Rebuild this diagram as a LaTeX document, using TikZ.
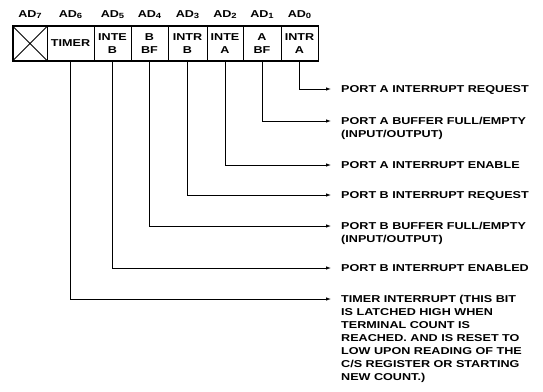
\documentclass[tikz,border=0pt]{standalone}
\usepackage{fontspec}
\setmainfont{Liberation Sans}[FakeStretch=1.26]
\usetikzlibrary{arrows.meta}
\newcommand{\adsub}[1]{AD\raisebox{-1.8pt}{\fontsize{7.5}{8}\selectfont #1}}
\begin{document}
\begin{tikzpicture}[x=1pt,y=-1pt,
  every node/.style={font=\bfseries\fontsize{10}{13}\selectfont},
  cell/.style={draw, line width=0.8pt, minimum height=34pt, inner sep=0pt, align=center},
  conn/.style={line width=0.8pt, -{Latex[length=5pt,width=3.5pt]}},
  lbl/.style={anchor=north west, inner sep=0pt, align=left},
  hdr/.style={anchor=base, inner sep=0pt}]
\useasboundingbox (0,0) rectangle (543,391);
% register cells
\node[cell, minimum width=34pt] (c7) at (30,43.5) {};
\node[cell, minimum width=47pt] (c6) at (70.5,43.5) {TIMER};
\node[cell, minimum width=37pt] (c5) at (112.5,43.5) {INTE\\B};
\node[cell, minimum width=37pt] (c4) at (149.5,43.5) {B\\BF};
\node[cell, minimum width=39pt] (c3) at (187.5,43.5) {INTR\\B};
\node[cell, minimum width=36pt] (c2) at (225,43.5) {INTE\\A};
\node[cell, minimum width=38pt] (c1) at (262,43.5) {A\\BF};
\node[cell, minimum width=37pt] (c0) at (299.5,43.5) {INTR\\A};
\draw[line width=1.4pt] (c7.north west) rectangle (c0.south east);
\draw[line width=0.8pt] (c7.north west) -- (c7.south east) (c7.north east) -- (c7.south west);
% headers
\node[hdr] (h7) at ([yshift=9pt]c7.north) {\adsub{7}};
\node[hdr] (h6) at ([yshift=9pt]c6.north) {\adsub{6}};
\node[hdr] (h5) at ([yshift=9pt]c5.north) {\adsub{5}};
\node[hdr] (h4) at ([yshift=9pt]c4.north) {\adsub{4}};
\node[hdr] (h3) at ([yshift=9pt]c3.north) {\adsub{3}};
\node[hdr] (h2) at ([yshift=9pt]c2.north) {\adsub{2}};
\node[hdr] (h1) at ([yshift=9pt]c1.north) {\adsub{1}};
\node[hdr] (h0) at ([yshift=9pt]c0.north) {\adsub{0}};
% arrow ends
\coordinate (e0) at (331,89);
\coordinate (e1) at (331,121);
\coordinate (e2) at (331,165);
\coordinate (e3) at (331,195);
\coordinate (e4) at (331,226);
\coordinate (e5) at (331,268);
\coordinate (e6) at (331,299);
% connectors
\draw[conn] (c0.south) |- (e0);
\draw[conn] (c1.south) |- (e1);
\draw[conn] (c2.south) |- (e2);
\draw[conn] (c3.south) |- (e3);
\draw[conn] (c4.south) |- (e4);
\draw[conn] (c5.south) |- (e5);
\draw[conn] (c6.south) |- (e6);
% labels
\node[lbl] (t0) at ([xshift=10pt,yshift=3.9pt]e0) {\rule{0pt}{7.5pt}PORT A INTERRUPT REQUEST};
\node[lbl] (t1) at ([xshift=10pt,yshift=3.9pt]e1) {\rule{0pt}{7.5pt}PORT A BUFFER FULL/EMPTY\\(INPUT/OUTPUT)};
\node[lbl] (t2) at ([xshift=10pt,yshift=3.9pt]e2) {\rule{0pt}{7.5pt}PORT A INTERRUPT ENABLE};
\node[lbl] (t3) at ([xshift=10pt,yshift=3.9pt]e3) {\rule{0pt}{7.5pt}PORT B INTERRUPT REQUEST};
\node[lbl] (t4) at ([xshift=10pt,yshift=3.9pt]e4) {\rule{0pt}{7.5pt}PORT B BUFFER FULL/EMPTY\\(INPUT/OUTPUT)};
\node[lbl] (t5) at ([xshift=10pt,yshift=3.9pt]e5) {\rule{0pt}{7.5pt}PORT B INTERRUPT ENABLED};
\node[lbl] (t6) at ([xshift=10pt,yshift=3.9pt]e6) {\rule{0pt}{7.5pt}TIMER INTERRUPT (THIS BIT\\IS LATCHED HIGH WHEN\\TERMINAL COUNT IS\\REACHED. AND IS RESET TO\\LOW UPON READING OF THE\\C/S REGISTER OR STARTING\\NEW COUNT.)};
\end{tikzpicture}
\end{document}
